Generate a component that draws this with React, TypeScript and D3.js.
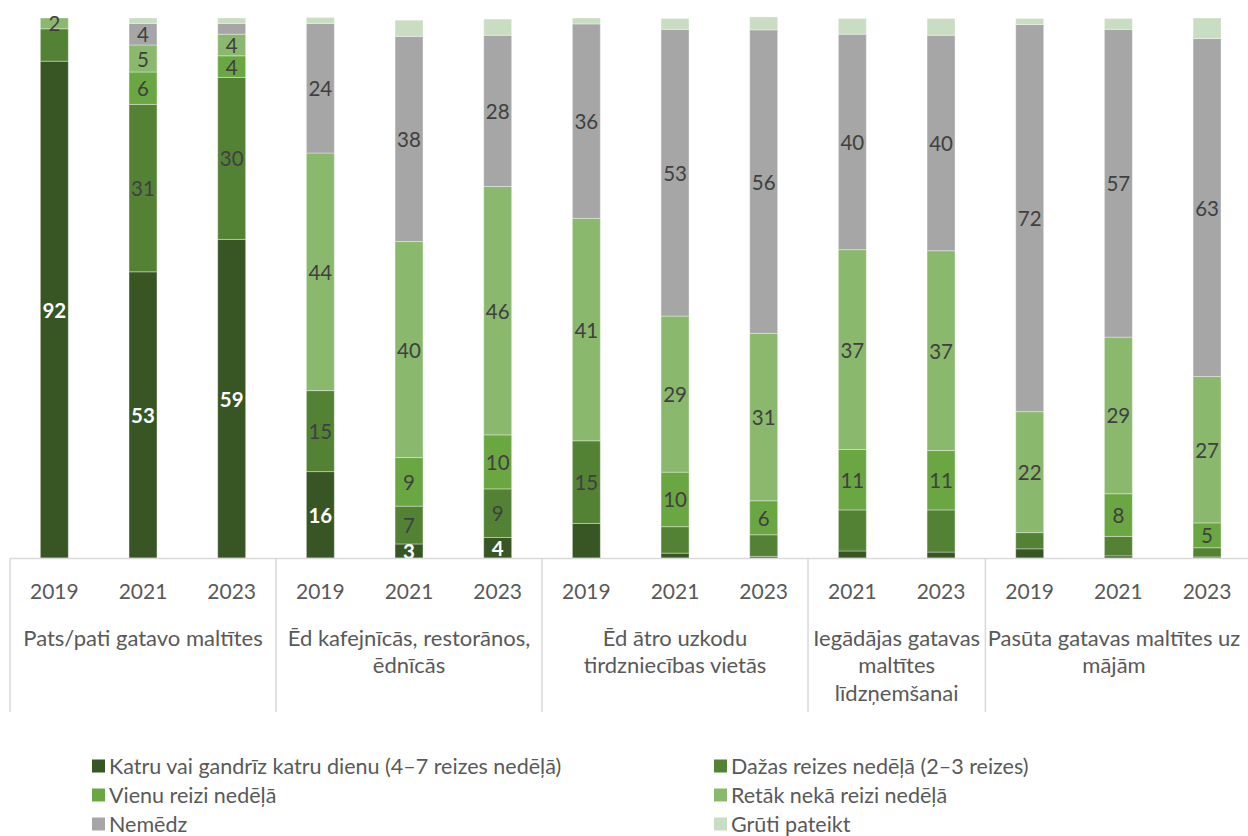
import React from "react";
import * as d3 from "d3";

// ---------- data ----------
const groupLabels: string[][] = [
  ["Pats/pati gatavo maltītes"],
  ["Ēd kafejnīcās, restorānos,", "ēdnīcās"],
  ["Ēd ātro uzkodu", "tirdzniecības vietās"],
  ["Iegādājas gatavas", "maltītes", "līdzņemšanai"],
  ["Pasūta gatavas maltītes uz", "mājām"],
];
const groupYears: string[][] = [
  ["2019", "2021", "2023"],
  ["2019", "2021", "2023"],
  ["2019", "2021", "2023"],
  ["2021", "2023"],
  ["2019", "2021", "2023"],
];

const seriesNames = [
  "Katru vai gandrīz katru dienu (4–7 reizes nedēļā)",
  "Dažas reizes nedēļā (2–3 reizes)",
  "Vienu reizi nedēļā",
  "Retāk nekā reizi nedēļā",
  "Nemēdz",
  "Grūti pateikt",
];

const katru = [92, 53, 59, 16, 2.6, 3.8, 6.4, 0.9, 0.3, 1.3, 1.1, 1.7, 0.4, 0.2];
const dazas = [6, 31, 30, 15, 7, 9, 15.3, 4.9, 4, 7.6, 7.8, 3, 3.6, 1.7];
const vienu = [0, 6, 4, 0, 9, 10, 0, 10.1, 6.3, 11.2, 11, 0, 7.9, 4.6];
const retak = [2, 5, 4, 44, 40, 46, 41.2, 28.9, 31, 37, 37, 22.4, 29, 27.1];
const nemedz = [0, 4, 2, 24, 38, 28, 36, 53.1, 56.2, 39.9, 39.9, 71.7, 57, 62.6];
const gruti = [0, 1, 1, 1.1, 3, 3, 1.1, 2, 2.4, 2.9, 3.1, 1.1, 2, 3.8];

// which bars carry a data label, per series
const labelledBars: number[][] = [
  [0, 1, 2, 3, 4, 5],
  [1, 2, 3, 4, 5, 6],
  [1, 2, 4, 5, 7, 8, 9, 10, 12, 13],
  [0, 1, 2, 3, 4, 5, 6, 7, 8, 9, 10, 11, 12, 13],
  [1, 3, 4, 5, 6, 7, 8, 9, 10, 11, 12, 13],
  [],
];

const seriesColors = ["#375623", "#548235", "#6aa743", "#8ab96d", "#a6a6a6", "#c9ddc2"];

// ---------- layout ----------
const W = 1248;
const H = 836;
const FONT = "Lato, 'Open Sans', sans-serif";

export default function App() {
  const seriesValues = [katru, dazas, vienu, retak, nemedz, gruti];
  const keys = seriesNames;
  const categories: { id: string; group: number; year: string }[] = [];
  groupYears.forEach((ys, g) => ys.forEach((y) => categories.push({ id: `${g}-${y}`, group: g, year: y })));
  const table = categories.map((c, i) => {
    const row: any = { id: c.id };
    keys.forEach((k, s) => (row[k] = seriesValues[s][i]));
    return row;
  });
  const stacked = d3.stack<any>().keys(keys)(table);

  const x = d3
    .scaleBand<string>()
    .domain(categories.map((c) => c.id))
    .range([10, 10 + 14 * 88.67])
    .paddingInner(0.685)
    .paddingOuter(0.3425);
  const y = d3.scaleLinear().domain([0, 100]).range([558, 18]);
  const color = d3.scaleOrdinal<string, string>().domain(keys).range(seriesColors);
  const fmt = d3.format(".0f");

  const step = x.step();
  const x0 = x.range()[0];
  const bounds: number[] = [0];
  groupYears.forEach((ys) => bounds.push(bounds[bounds.length - 1] + ys.length));

  const legendItems = keys.map((k, i) => ({ k, col: i % 2, row: Math.floor(i / 2) }));

  return (
    <svg
      width={W}
      height={H}
      style={{ position: "absolute", left: 0, top: 0, background: "#fff" }}
      fontFamily={FONT}
    >
      {stacked.map((layer) => (
        <g key={layer.key} fill={color(layer.key)}>
          {layer.map((d, i) => {
            const h = y(d[0]) - y(d[1]);
            if (h <= 0) return null;
            return (
              <rect
                key={i}
                x={x(categories[i].id)}
                y={y(d[1])}
                width={x.bandwidth()}
                height={h}
                stroke="#ffffff"
                strokeOpacity={0.35}
                strokeWidth={1}
              />
            );
          })}
        </g>
      ))}
      {stacked.map((layer, s) => (
        <g key={"l" + layer.key}>
          {labelledBars[s].map((i) => {
            const d = layer[i];
            const cx = (x(categories[i].id) as number) + x.bandwidth() / 2;
            const cy = (y(d[0]) + y(d[1])) / 2;
            return (
              <text
                key={i}
                x={cx}
                y={cy}
                textAnchor="middle"
                dominantBaseline="central"
                fontSize={20.5}
                fill={s === 0 ? "#ffffff" : "#404040"}
                fontWeight={s === 0 ? 700 : 400}
              >
                {fmt(d[1] - d[0])}
              </text>
            );
          })}
        </g>
      ))}
      <line x1={x0} x2={W} y1={558.5} y2={558.5} stroke="#d9d9d9" strokeWidth={1.5} />
      {bounds.map((b, i) => (
        <line
          key={"sep" + i}
          x1={x0 + b * step}
          x2={x0 + b * step}
          y1={558}
          y2={712}
          stroke="#d9d9d9"
          strokeWidth={1.5}
        />
      ))}
      {categories.map((c) => (
        <text
          key={"yr" + c.id}
          x={(x(c.id) as number) + x.bandwidth() / 2}
          y={590}
          textAnchor="middle"
          dominantBaseline="central"
          fontSize={21}
          fill="#595959"
        >
          {c.year}
        </text>
      ))}
      {groupLabels.map((lines, g) => {
        const cx = Math.min(x0 + ((bounds[g] + bounds[g + 1]) / 2) * step, 1114);
        return (
          <text key={"g" + g} textAnchor="middle" fontSize={22} fill="#595959">
            {lines.map((ln, j) => (
              <tspan key={j} x={cx} y={637 + j * 27.5} dominantBaseline="central">
                {ln}
              </tspan>
            ))}
          </text>
        );
      })}
      {legendItems.map((it) => {
        const lx = it.col === 0 ? 92 : 714;
        const ly = 766 + it.row * 29;
        return (
          <g key={"lg" + it.k}>
            <rect x={lx} y={ly - 6.5} width={13} height={13} fill={color(it.k)} />
            <text x={lx + 17} y={ly} dominantBaseline="central" fontSize={21.5} fill="#595959">
              {it.k}
            </text>
          </g>
        );
      })}
    </svg>
  );
}
